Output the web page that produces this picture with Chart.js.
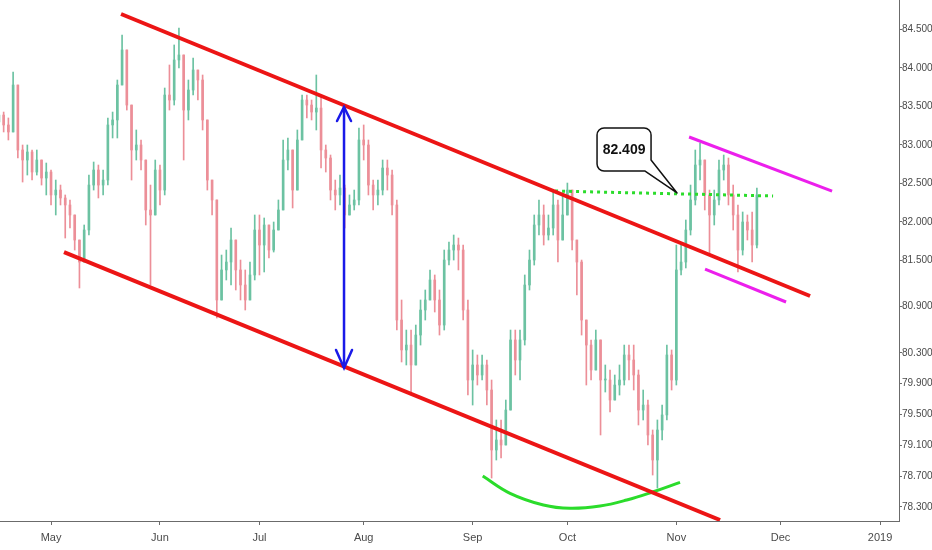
<!DOCTYPE html>
<html>
<head>
<meta charset="utf-8">
<title>Channel</title>
<script src="https://cdn.jsdelivr.net/npm/chart.js@4.4.1/dist/chart.umd.min.js"></script>
<style>
    html, body { margin: 0; padding: 0; background: #fff; }
    #wrap { position: relative; width: 932px; height: 550px; }
</style>
</head>
<body>
<div id="wrap"><canvas id="chart"></canvas></div>
<script>
// one candle per trading day, index 0 = 1 May 2018 (first candle is index -11)
const firstIndex = -11;
const firstOpen = 83.30;

const closes = [
    83.389, 83.260, 83.169, 83.779, 82.935, 82.805, 82.909, 82.649, 82.805, 82.571, 82.649,
    82.351, 82.415, 82.312, 82.221, 82.091, 81.766, 81.480, 81.896, 82.480, 82.675,
    82.480, 82.545, 83.260, 83.325, 83.779, 84.234, 83.519, 82.935, 83.000, 82.805,
    82.156, 82.091, 82.675, 82.415, 83.649, 83.584, 84.104, 84.169, 83.454, 83.714,
    83.974, 83.844, 83.325, 82.545, 82.286, 80.987, 81.377, 81.480, 81.766, 81.377,
    81.182, 80.987, 81.312, 81.896, 81.701, 81.961, 81.636, 81.896, 82.156, 82.805,
    82.935, 82.415, 83.065, 83.584, 83.519, 83.428, 83.480, 82.935, 82.831, 82.415,
    82.351, 82.441, 82.091, 82.221, 82.286, 83.065, 83.000, 82.480, 82.351, 82.415,
    82.701, 82.610, 82.221, 80.727, 80.338, 80.402, 80.143, 80.532, 80.857, 80.987,
    81.247, 80.987, 80.662, 81.506, 81.636, 81.701, 81.636, 80.857, 79.948, 80.143,
    80.013, 80.143, 79.818, 79.039, 79.169, 79.104, 79.558, 80.468, 80.208, 80.468,
    81.182, 81.506, 81.961, 82.091, 81.831, 81.922, 82.221, 81.766, 82.091, 82.415,
    81.766, 81.480, 80.727, 80.402, 80.078, 80.468, 79.948, 79.948, 79.688, 79.883,
    79.948, 80.273, 80.208, 80.013, 79.558, 79.623, 79.234, 78.909, 79.299, 79.494,
    80.273, 79.948, 81.377, 81.480, 81.896, 82.286, 82.740, 82.805, 82.351, 82.091,
    82.286, 82.675, 82.740, 82.351, 82.091, 81.636, 82.000, 81.896, 81.701, 82.351
];
const highs = [
    83.519, 83.428, 83.351, 83.948, 83.584, 83.000, 83.000, 82.935, 82.935, 82.805, 82.766,
    82.675, 82.545, 82.480, 82.351, 82.286, 82.026, 81.766, 81.961, 82.610, 82.779,
    82.740, 82.675, 83.351, 83.428, 83.844, 84.428, 84.104, 83.260, 83.195, 83.065,
    82.805, 82.480, 82.805, 82.740, 83.740, 84.039, 84.299, 84.519, 84.169, 83.844,
    84.130, 83.974, 83.909, 83.325, 82.545, 82.286, 81.571, 81.636, 81.922, 81.766,
    81.506, 81.377, 81.480, 82.091, 82.091, 82.052, 81.896, 82.000, 82.286, 83.065,
    83.091, 82.935, 83.195, 83.649, 83.649, 83.584, 83.909, 83.649, 83.000, 82.870,
    82.545, 82.610, 82.480, 82.351, 82.415, 83.221, 83.260, 83.065, 82.545, 82.545,
    82.805, 82.805, 82.675, 82.286, 80.987, 80.597, 80.597, 80.662, 80.987, 81.117,
    81.377, 81.312, 81.117, 81.636, 81.740, 81.831, 81.792, 81.701, 80.987, 80.338,
    80.273, 80.273, 80.208, 79.948, 79.429, 79.429, 79.688, 80.597, 80.597, 80.597,
    81.312, 81.636, 82.091, 82.286, 82.221, 82.091, 82.415, 82.286, 82.351, 82.506,
    82.415, 81.766, 81.506, 80.727, 80.468, 80.597, 80.468, 80.143, 80.078, 80.013,
    80.143, 80.402, 80.402, 80.402, 80.078, 79.818, 79.688, 79.299, 79.429, 79.623,
    80.402, 80.338, 81.701, 81.701, 82.026, 82.480, 82.935, 83.026, 82.805, 82.415,
    82.415, 82.805, 82.870, 82.831, 82.480, 82.221, 82.130, 82.091, 82.130, 82.441
];
const lows = [
    83.260, 83.169, 83.065, 83.221, 82.831, 82.519, 82.610, 82.545, 82.610, 82.480, 82.351,
    82.221, 82.091, 82.221, 81.792, 81.922, 81.636, 81.143, 81.480, 81.831, 82.415,
    82.312, 82.351, 82.480, 83.091, 83.091, 83.779, 83.454, 82.545, 82.805, 82.675,
    81.961, 81.182, 82.091, 82.221, 82.351, 83.454, 83.519, 84.000, 82.805, 83.325,
    83.649, 83.584, 83.195, 82.415, 82.091, 80.753, 81.117, 81.247, 81.182, 81.117,
    80.987, 80.857, 81.052, 81.247, 81.312, 81.351, 81.532, 81.610, 81.896, 82.156,
    82.675, 82.182, 82.545, 83.065, 83.351, 83.325, 83.195, 82.701, 82.649, 82.286,
    82.156, 82.221, 81.922, 82.091, 82.156, 82.221, 82.805, 82.351, 82.156, 82.221,
    82.351, 82.415, 82.091, 80.597, 80.182, 80.143, 79.753, 80.273, 80.402, 80.727,
    80.987, 80.831, 80.532, 80.597, 81.441, 81.506, 81.377, 80.727, 79.753, 79.623,
    79.883, 79.948, 79.623, 78.675, 78.909, 78.935, 79.169, 79.558, 80.013, 79.948,
    80.402, 81.117, 81.441, 81.831, 81.701, 81.766, 81.831, 81.480, 81.831, 82.091,
    81.636, 81.052, 80.532, 79.883, 79.948, 80.208, 79.234, 79.792, 79.532, 79.714,
    79.753, 79.883, 79.948, 79.818, 79.364, 79.429, 79.104, 78.714, 78.545, 79.169,
    79.429, 79.818, 79.883, 81.312, 81.403, 81.831, 82.221, 82.545, 82.156, 81.571,
    81.961, 82.221, 82.545, 82.221, 81.896, 81.351, 81.571, 81.766, 81.480, 81.662
];

// axis labels
const monthIndex = [0, 23, 44, 66, 89, 109, 132, 154, 175];
const monthLabels = ['May', 'Jun', 'Jul', 'Aug', 'Sep', 'Oct', 'Nov', 'Dec', '2019'];
const priceTicks = [84.5, 84.0, 83.5, 83.0, 82.5, 82.0, 81.5, 80.9, 80.3, 79.9, 79.5, 79.1, 78.7, 78.3];

// drawings, as [candle index, price]
const channelTop = [[14.78, 84.701], [160.23, 81.039]];
const channelBottom = [[2.74, 81.610], [141.23, 78.130]];
const channelWidth = [[61.85, 83.493], [61.85, 80.104]];
const breakLevel = [[106.4, 82.402], [152.42, 82.338]];
const flagTop = [[134.69, 83.104], [164.87, 82.402]];
const flagBottom = [[138.06, 81.389], [155.16, 80.961]];
const roundBottom = [
    [91.13, 78.701], [96.9, 78.477], [103.93, 78.325], [109.56, 78.282],
    [115.9, 78.311], [121.53, 78.389], [127.15, 78.497], [132.78, 78.619]
];
const calloutText = '82.409';
const calloutBox = [115.26, 83.221, 126.66, 82.662];
const calloutBase = [125.4, 82.805];
const calloutTip = [132.15, 82.377];

const X_MIN = -10.77;
const X_MAX = 179.0;
const Y_MIN = 78.117;
const Y_MAX = 84.883;

const COLORS = {
    up: '#6cc2a2',
    down: '#ec8f98',
    axis: '#6b6b6b',
    text: '#4a4a4a',
    red: '#ec1515',
    blue: '#1a1ae8',
    green: '#2bdc2b',
    magenta: '#ec1fec'
};
const FONT = "'Liberation Sans', Arial, sans-serif";

const toPoints = (pts) => pts.map(([a, b]) => ({ x: a, y: b }));

function lineSet(pts, color, extra) {
    return Object.assign({
        type: 'line',
        data: toPoints(pts),
        borderColor: color,
        borderWidth: 3,
        pointRadius: 0,
        fill: false,
        tension: 0,
        order: 0
    }, extra || {});
}

// axis boxes keep the exact size of the reference, without label overflow padding
function fixBox(size, key) {
    return (scale) => {
        scale[key] = size;
        scale.paddingTop = 0;
        scale.paddingBottom = 0;
        scale.paddingLeft = 0;
        scale.paddingRight = 0;
    };
}

/**
 * Arrow heads of the channel width marker and the price callout.
 */
const drawingsPlugin = {
    id: 'drawings',
    afterDatasetsDraw(chart) {
        const { ctx, scales: { x, y } } = chart;
        ctx.save();

        const ax = x.getPixelForValue(channelWidth[0][0]);
        const top = y.getPixelForValue(channelWidth[0][1]);
        const bottom = y.getPixelForValue(channelWidth[1][1]);
        ctx.strokeStyle = COLORS.blue;
        ctx.lineWidth = 2.5;
        ctx.lineCap = 'round';
        ctx.beginPath();
        ctx.moveTo(ax - 7, top + 14);
        ctx.lineTo(ax, top);
        ctx.lineTo(ax + 7, top + 14);
        ctx.moveTo(ax - 8, bottom - 18);
        ctx.lineTo(ax, bottom);
        ctx.lineTo(ax + 8, bottom - 18);
        ctx.stroke();

        const l = x.getPixelForValue(calloutBox[0]);
        const r = x.getPixelForValue(calloutBox[2]);
        const t = y.getPixelForValue(calloutBox[1]);
        const b = y.getPixelForValue(calloutBox[3]);
        const bx = x.getPixelForValue(calloutBase[0]);
        const ry = y.getPixelForValue(calloutBase[1]);
        const tx = x.getPixelForValue(calloutTip[0]);
        const ty = y.getPixelForValue(calloutTip[1]);
        const rad = 7;
        ctx.beginPath();
        ctx.moveTo(l + rad, t);
        ctx.lineTo(r - rad, t);
        ctx.arcTo(r, t, r, t + rad, rad);
        ctx.lineTo(r, ry);
        ctx.lineTo(tx, ty);
        ctx.lineTo(bx, b);
        ctx.lineTo(l + rad, b);
        ctx.arcTo(l, b, l, b - rad, rad);
        ctx.lineTo(l, t + rad);
        ctx.arcTo(l, t, l + rad, t, rad);
        ctx.closePath();
        ctx.fillStyle = '#fff';
        ctx.fill();
        ctx.lineWidth = 1.5;
        ctx.lineJoin = 'round';
        ctx.strokeStyle = '#111';
        ctx.stroke();

        ctx.fillStyle = '#111';
        ctx.font = 'bold 14px ' + FONT;
        ctx.textAlign = 'center';
        ctx.textBaseline = 'middle';
        ctx.fillText(calloutText, (l + r) / 2, (t + b) / 2 + 1);
        ctx.restore();
    }
};

function createChart(canvasId) {
    const ctx = document.getElementById(canvasId)?.getContext('2d');
    if (!ctx) return null;

    const candles = closes.map((c, k) => {
        const o = k === 0 ? firstOpen : closes[k - 1];
        return { x: firstIndex + k, o, h: highs[k], l: lows[k], c };
    });
    const candleColors = candles.map(d => d.c >= d.o ? COLORS.up : COLORS.down);

    return new Chart(ctx, {
        type: 'bar',
        data: {
            datasets: [
                lineSet(channelTop, COLORS.red, { borderWidth: 4 }),
                lineSet(channelBottom, COLORS.red, { borderWidth: 4 }),
                lineSet(channelWidth, COLORS.blue, { borderWidth: 2.5 }),
                lineSet(breakLevel, COLORS.green, { borderDash: [3, 4] }),
                lineSet(flagTop, COLORS.magenta),
                lineSet(flagBottom, COLORS.magenta),
                lineSet(roundBottom, COLORS.green, { tension: 0.4 }),
                {
                    type: 'bar',
                    data: candles.map(d => ({ x: d.x, y: [d.o, d.c] })),
                    backgroundColor: candleColors,
                    barThickness: 2,
                    minBarLength: 1,
                    grouped: false,
                    borderWidth: 0,
                    order: 1
                },
                {
                    type: 'bar',
                    data: candles.map(d => ({
                        x: d.x,
                        y: [Math.min(d.l, d.o, d.c), Math.max(d.h, d.o, d.c)]
                    })),
                    backgroundColor: candleColors,
                    barThickness: 1,
                    grouped: false,
                    borderWidth: 0,
                    order: 2
                }
            ]
        },
        options: {
            responsive: true,
            maintainAspectRatio: false,
            animation: false,
            events: [],
            layout: { padding: 0 },
            plugins: {
                legend: { display: false },
                tooltip: { enabled: false }
            },
            scales: {
                x: {
                    type: 'linear',
                    min: X_MIN,
                    max: X_MAX,
                    offset: false,
                    afterBuildTicks: (scale) => {
                        scale.ticks = monthIndex.map(v => ({ value: v }));
                    },
                    afterFit: fixBox(29, 'height'),
                    ticks: {
                        callback: (value, index) => monthLabels[index],
                        autoSkip: false,
                        maxRotation: 0,
                        padding: 6,
                        color: COLORS.text,
                        font: { family: FONT, size: 11 }
                    },
                    grid: {
                        offset: false,
                        drawOnChartArea: false,
                        tickLength: 4,
                        color: COLORS.axis
                    },
                    border: { color: COLORS.axis }
                },
                y: {
                    type: 'linear',
                    position: 'right',
                    min: Y_MIN,
                    max: Y_MAX,
                    afterBuildTicks: (scale) => {
                        scale.ticks = priceTicks.map(v => ({ value: v }));
                    },
                    afterFit: fixBox(33, 'width'),
                    ticks: {
                        callback: (value) => value.toFixed(3),
                        padding: 0,
                        color: COLORS.text,
                        font: { family: FONT, size: 10 }
                    },
                    grid: {
                        drawOnChartArea: false,
                        tickLength: 3,
                        color: COLORS.axis
                    },
                    border: { color: COLORS.axis }
                }
            }
        },
        plugins: [drawingsPlugin]
    });
}

createChart('chart');
</script>
</body>
</html>
